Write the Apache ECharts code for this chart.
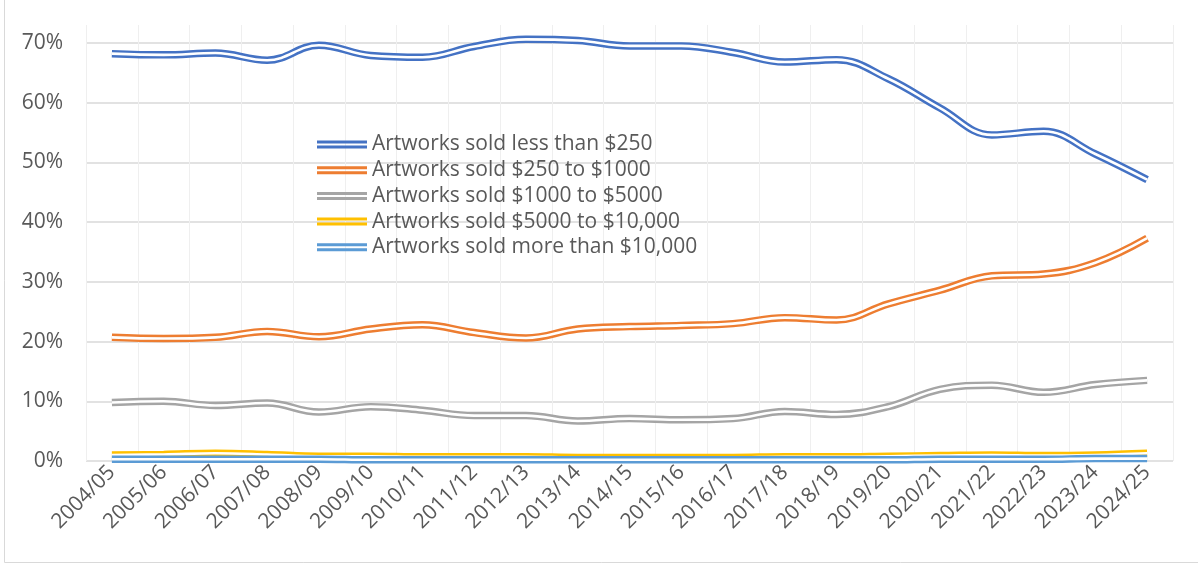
<!DOCTYPE html>
<html>
<head>
<meta charset="utf-8">
<script src="https://cdn.jsdelivr.net/npm/echarts@6/dist/echarts.min.js"></script>
<style>
  html, body { margin: 0; padding: 0; background: #fff; }
  #chart { width: 1198px; height: 564px; }
</style>
</head>
<body>
<div id="chart"></div>
<script>
// season labels
var seasons = ['2004/05', '2005/06', '2006/07', '2007/08', '2008/09', '2009/10', '2010/11',
  '2011/12', '2012/13', '2013/14', '2014/15', '2015/16', '2016/17', '2017/18', '2018/19',
  '2019/20', '2020/21', '2021/22', '2022/23', '2023/24', '2024/25']

// share of artworks sold (%)
var lessThan250 = [68.2, 68.0, 68.3, 67.1, 69.6, 67.9, 67.6, 69.4, 70.6, 70.4, 69.5,
  69.5, 68.4, 66.8, 67.2, 64.0, 59.1, 54.6, 55.2, 51.4, 47.1]
var from250to1000 = [20.7, 20.5, 20.7, 21.7, 20.8, 22.1, 22.8, 21.5, 20.6, 22.1, 22.5,
  22.7, 23.0, 24.0, 23.6, 26.3, 28.6, 31.0, 31.3, 33.2, 37.3]
var from1000to5000 = [9.8, 10.0, 9.3, 9.7, 8.2, 9.1, 8.5, 7.6, 7.6, 6.7, 7.1,
  6.9, 7.1, 8.3, 7.8, 9.1, 12.0, 12.7, 11.5, 12.8, 13.5]
var from5000to10000 = [1.0, 1.1, 1.3, 1.1, 0.8, 0.8, 0.7, 0.7, 0.7, 0.6, 0.6,
  0.6, 0.6, 0.7, 0.7, 0.8, 0.9, 1.0, 0.9, 1.0, 1.3]
var moreThan10000 = [0.3, 0.3, 0.3, 0.3, 0.3, 0.2, 0.2, 0.2, 0.2, 0.2, 0.2,
  0.2, 0.2, 0.2, 0.2, 0.2, 0.3, 0.3, 0.3, 0.4, 0.4]

var yTicks = [0, 10, 20, 30, 40, 50, 60, 70]

var seriesDefs = [
  { name: 'Artworks sold less than $250', color: '#4472C4', data: lessThan250 },
  { name: 'Artworks sold $250 to $1000', color: '#ED7D31', data: from250to1000 },
  { name: 'Artworks sold $1000 to $5000', color: '#A5A5A5', data: from1000to5000 },
  { name: 'Artworks sold $5000 to $10,000', color: '#FFC000', data: from5000to10000 },
  { name: 'Artworks sold more than $10,000', color: '#5B9BD5', data: moreThan10000 }
]

var font = '"Open Sans", Lato, sans-serif'
var fontSize = 21
var textColor = '#595959'

// excel style double line: thick coloured stroke with a thin white one on top
var series = []
seriesDefs.forEach(function(s) {
  series.push({
    name: s.name,
    type: 'line',
    data: s.data,
    smooth: 0.4,
    symbol: 'none',
    color: s.color,
    lineStyle: { color: s.color, width: 7.5 },
    emphasis: { disabled: true }
  })
  series.push({
    name: s.name + ' (inner)',
    type: 'line',
    data: s.data,
    smooth: 0.4,
    symbol: 'none',
    silent: true,
    lineStyle: { color: '#ffffff', width: 2.6 },
    emphasis: { disabled: true }
  })
})

var chart = echarts.init(document.getElementById('chart'))
chart.setOption({
  animation: false,
  textStyle: { fontFamily: font },
  graphic: [{
    type: 'rect',
    shape: { x: 4.5, y: -2, width: 1200, height: 564.5 },
    style: { fill: 'none', stroke: '#d9d9d9', lineWidth: 1 },
    silent: true
  }],
  grid: { left: 86, right: 25, top: 25, bottom: 103 },
  legend: {
    orient: 'vertical',
    left: 312,
    top: 129,
    itemWidth: 50,
    itemHeight: 8,
    itemGap: 4.7,
    icon: 'path://M0,0H50V3H0Z M0,5H50V8H0Z',
    itemStyle: { borderWidth: 0 },
    data: seriesDefs.map(function(s) { return s.name }),
    textStyle: { fontFamily: font, fontSize: fontSize, color: textColor, lineHeight: 21 }
  },
  xAxis: {
    type: 'category',
    data: seasons,
    boundaryGap: true,
    axisLine: { show: false },
    axisTick: { show: false },
    splitLine: { show: true, interval: 0, lineStyle: { color: '#efefef', width: 1 } },
    axisLabel: {
      interval: 0,
      rotate: 45,
      margin: 8,
      fontFamily: font,
      fontSize: fontSize,
      color: textColor
    }
  },
  yAxis: {
    type: 'value',
    min: 0,
    max: 73,
    interval: 10,
    axisLine: { show: false },
    axisTick: { show: false },
    splitLine: {
      lineStyle: {
        color: ['#d9d9d9', '#d9d9d9', '#d9d9d9', '#d9d9d9', '#d9d9d9', '#d9d9d9', '#d9d9d9', '#d9d9d9', 'rgba(0,0,0,0)'],
        width: 1.5
      }
    },
    axisLabel: {
      margin: 23,
      fontFamily: font,
      fontSize: fontSize,
      color: textColor,
      formatter: function(v) {
        return yTicks.indexOf(v) >= 0 ? v + '%' : ''
      }
    }
  },
  series: series
})
</script>
</body>
</html>
